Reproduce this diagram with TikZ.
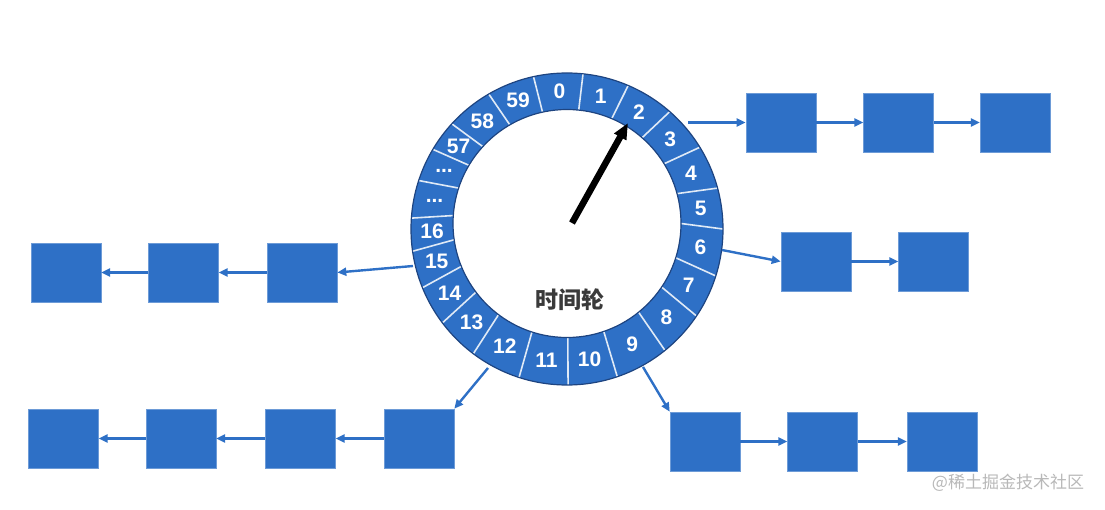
\documentclass[tikz,border=0pt]{standalone}
\usepackage{fontspec}
\setmainfont{Liberation Sans}
\newfontfamily\cjk{Noto Sans CJK SC}
\usetikzlibrary{arrows.meta, positioning, calc}

\definecolor{wheelblue}{RGB}{46,112,198}
\definecolor{rimblue}{RGB}{30,68,128}
\definecolor{capgray}{RGB}{58,58,58}
\newcommand{\slotdots}{...}

\begin{document}
\begin{tikzpicture}[
    x=1pt, y=1pt,
    >={Triangle[length=9pt, width=8pt]}, % small solid tips for the lists
    task/.style={fill=wheelblue, draw=wheelblue!70!white, line width=0.6pt,
                 minimum width=70pt, minimum height=59pt, inner sep=0pt}, % one task
    link/.style={->, draw=wheelblue, line width=2.4pt}, % list pointers
    divider/.style={white!85!wheelblue, line width=1.6pt}, % lines between slots
    slot/.style={text=white, font=\bfseries\fontsize{21}{21}\selectfont, inner sep=0pt},
    hand/.style={-{Triangle[length=16pt, width=13pt]}, line width=6.5pt} % the pointer
]
    \useasboundingbox (0,0) rectangle (1105,509);

    % === Wheel ===
    \coordinate (Oo) at (567,280);   % outer rim centre
    \coordinate (Oi) at (567,285.5); % inner rim centre
    \coordinate (Oc) at (567,282.5); % label circle centre

    \fill[wheelblue, even odd rule] (Oo) circle (156) (Oi) circle (114);

    % slots: start angle / end angle / label
    \foreach \a/\b/\t [count=\k] in {102.4/84.1/0, 84.1/66.9/1, 66.9/48.8/2,
        48.8/31.6/3, 31.6/15.2/4, 15.2/0/5, 0/-17.5/6, -17.5/-33.9/7,
        -33.9/-51.1/8, -51.1/-71.2/9, -71.2/-89.6/10, -89.6/-107.9/11,
        -107.9/-126.9/12, -126.9/-143/13, -143/-157.9/14, -157.9/-171.8/15,
        -171.8/-184/16, -184/-198.1/\slotdots, -198.1/-210.7/\slotdots,
        -210.7/-222.4/57, -222.4/-239.9/58, -239.9/-257.6/59} {
        \draw[divider] ($(Oi)+(\a:114)$) -- ($(Oo)+(\a:156)$);
        \node[slot] (slot\k) at ($(Oc)+({(\a+\b)/2}:135)$) {\t};
    }

    \draw[rimblue, line width=1.2pt] (Oo) circle (156) (Oi) circle (114);

    \node[font=\cjk\bfseries\fontsize{23}{23}\selectfont, text=capgray] (title) at (570,209) {时间轮};

    % === Pointer ===
    \coordinate (hub) at (572,286);
    \coordinate (tip) at (628,386);
    \draw[hand] (hub) -- (tip);

    % === Task lists ===
    % slot 2
    \node[task] (s2a) at (781,386.5) {};
    \node[task, right=47pt of s2a] (s2b) {};
    \node[task, right=46pt of s2b] (s2c) {};

    % slot 6
    \node[task] (s6a) at (816,247.5) {};
    \node[task, right=47pt of s6a] (s6b) {};

    % slot 15
    \node[task] (s15a) at (302,236.5) {};
    \node[task, left=48pt of s15a] (s15b) {};
    \node[task, left=47pt of s15b] (s15c) {};

    % slot 12
    \node[task] (s12a) at (419,70.5) {};
    \node[task, left=48pt of s12a] (s12b) {};
    \node[task, left=49pt of s12b] (s12c) {};
    \node[task, left=47pt of s12c] (s12d) {};

    % slot 9
    \node[task] (s9a) at (705,67.5) {};
    \node[task, right=47pt of s9a] (s9b) {};
    \node[task, right=49pt of s9b] (s9c) {};

    % === Pointers from the rim ===
    \coordinate (e2) at (688,386.5);
    \coordinate (e6) at (722,259);
    \coordinate (e15) at (413,243);
    \coordinate (e12) at (488,141);
    \coordinate (e9) at (643,142);

    \draw[link] (e2) -- (s2a.west);
    \draw[link] (s2a) -- (s2b);
    \draw[link] (s2b) -- (s2c);

    \draw[link] (e6) -- (s6a.west);
    \draw[link] (s6a) -- (s6b);

    \draw[link] (e15) -- (s15a.east);
    \draw[link] (s15a) -- (s15b);
    \draw[link] (s15b) -- (s15c);

    \draw[link] (e12) -- (s12a.north east);
    \draw[link] (s12a) -- (s12b);
    \draw[link] (s12b) -- (s12c);
    \draw[link] (s12c) -- (s12d);

    \draw[link] (e9) -- (s9a.north west);
    \draw[link] (s9a) -- (s9b);
    \draw[link] (s9b) -- (s9c);

    % watermark
    \node[font=\cjk\fontsize{17}{17}\selectfont, text=black!28] (mark) at (1008,26.5) {@稀土掘金技术社区};

\end{tikzpicture}
\end{document}
